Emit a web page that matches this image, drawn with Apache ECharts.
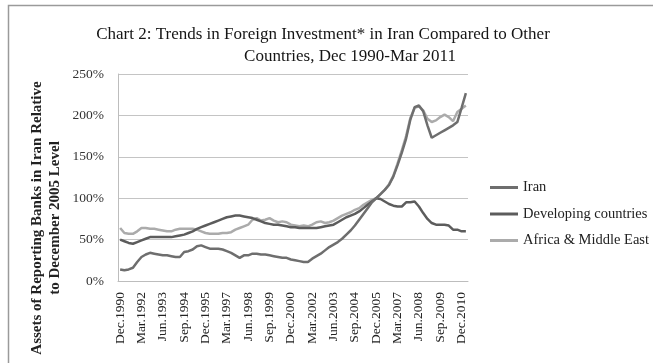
<!DOCTYPE html>
<html>
<head>
<meta charset="utf-8">
<script src="https://cdn.jsdelivr.net/npm/echarts@6/dist/echarts.min.js"></script>
<style>
  html, body { margin: 0; padding: 0; background: #fff; }
  #chart { width: 653px; height: 363px; }
</style>
</head>
<body>
<div id="chart"></div>
<script>
// Quarterly observations, Dec 1990 to Mar 2011
const quarters = [
  'Dec.1990',
  'Mar.1991','Jun.1991','Sep.1991','Dec.1991','Mar.1992','Jun.1992','Sep.1992','Dec.1992',
  'Mar.1993','Jun.1993','Sep.1993','Dec.1993','Mar.1994','Jun.1994','Sep.1994','Dec.1994',
  'Mar.1995','Jun.1995','Sep.1995','Dec.1995','Mar.1996','Jun.1996','Sep.1996','Dec.1996',
  'Mar.1997','Jun.1997','Sep.1997','Dec.1997','Mar.1998','Jun.1998','Sep.1998','Dec.1998',
  'Mar.1999','Jun.1999','Sep.1999','Dec.1999','Mar.2000','Jun.2000','Sep.2000','Dec.2000',
  'Mar.2001','Jun.2001','Sep.2001','Dec.2001','Mar.2002','Jun.2002','Sep.2002','Dec.2002',
  'Mar.2003','Jun.2003','Sep.2003','Dec.2003','Mar.2004','Jun.2004','Sep.2004','Dec.2004',
  'Mar.2005','Jun.2005','Sep.2005','Dec.2005','Mar.2006','Jun.2006','Sep.2006','Dec.2006',
  'Mar.2007','Jun.2007','Sep.2007','Dec.2007','Mar.2008','Jun.2008','Sep.2008','Dec.2008',
  'Mar.2009','Jun.2009','Sep.2009','Dec.2009','Mar.2010','Jun.2010','Sep.2010','Dec.2010',
  'Mar.2011'
];

// Assets relative to the December 2005 level, in percent
const iran = [
  14, 13, 14, 16, 23, 29, 32, 34, 33, 32, 31, 31, 30, 29, 29, 35, 36, 38, 42, 43,
  41, 39, 39, 39, 38, 36, 34, 31, 28, 31, 31, 33, 33, 32, 32, 31, 30, 29, 28, 28,
  26, 25, 24, 23, 23, 27, 30, 33, 37, 41, 44, 47, 51, 56, 61, 67, 74, 81, 88, 95,
  100, 105, 110, 116, 126, 140, 155, 172, 195, 210, 212, 205, 188, 173, 176, 179, 182, 185, 188, 192,
  209, 227
];
const developing = [
  50, 48, 46, 45, 47, 49, 51, 53, 53, 53, 53, 53, 53, 54, 55, 56, 58, 60, 63, 65,
  67, 69, 71, 73, 75, 77, 78, 79, 79, 78, 77, 76, 74, 72, 70, 69, 68, 68, 67, 66,
  65, 65, 64, 64, 64, 64, 64, 65, 66, 67, 68, 71, 74, 77, 79, 81, 84, 88, 92, 96,
  100, 99, 96, 93, 91, 90, 90, 95, 95, 96, 90, 82, 75, 70, 68, 68, 68, 67, 62, 62,
  60, 60
];
const africaMiddleEast = [
  64, 58, 57, 57, 60, 64, 64, 63, 63, 62, 61, 60, 60, 62, 63, 63, 63, 63, 62, 60,
  58, 57, 57, 57, 58, 58, 59, 62, 64, 66, 68, 74, 76, 73, 74, 76, 73, 71, 72, 71,
  68, 67, 66, 67, 66, 68, 71, 72, 70, 71, 73, 76, 79, 81, 83, 86, 88, 92, 95, 98,
  100, 105, 110, 117, 127, 142, 158, 175, 197, 209, 211, 206, 196, 192, 194, 198, 201, 198, 193, 204,
  208, 212
];

const seriesNames = ['Iran', 'Developing countries', 'Africa & Middle East'];
const seriesColors = ['#6e6e6e', '#5c5c5c', '#ababab'];
const seriesZ = [3, 2, 1];
const yTicks = { min: 0, max: 250, interval: 50 };

const serif = '"Liberation Serif", "DejaVu Serif", serif';

const chart = echarts.init(document.getElementById('chart'), null, { renderer: 'canvas' });

const lineSeries = [iran, developing, africaMiddleEast].map((values, k) => ({
  name: seriesNames[k],
  type: 'line',
  data: values,
  showSymbol: false,
  symbol: 'none',
  z: seriesZ[k],
  lineStyle: { color: seriesColors[k], width: 2.5 },
  itemStyle: { color: seriesColors[k] },
  emphasis: { disabled: true }
}));

chart.setOption({
  backgroundColor: '#ffffff',
  animation: false,
  title: [
    {
      text: 'Chart 2: Trends in Foreign Investment* in Iran Compared to Other',
      left: 318, top: 21, textAlign: 'center',
      textStyle: { fontFamily: serif, fontSize: 17, fontWeight: 'normal', color: '#151515' }
    },
    {
      text: 'Countries, Dec 1990-Mar 2011',
      left: 345, top: 43, textAlign: 'center',
      textStyle: { fontFamily: serif, fontSize: 17, fontWeight: 'normal', color: '#151515' }
    }
  ],
  graphic: [
    {
      type: 'rect',
      shape: { x: 8.5, y: 5.5, width: 700, height: 400 },
      style: { fill: 'none', stroke: '#9a9a9a', lineWidth: 1.5 },
      silent: true
    },
    {
      // Vertical axis title, two lines
      type: 'text',
      x: 46, y: 218,
      rotation: Math.PI / 2,
      style: {
        text: 'Assets of Reporting Banks in Iran Relative\nto December 2005 Level',
        font: 'bold 15px ' + serif,
        fill: '#222',
        align: 'center',
        verticalAlign: 'middle',
        lineHeight: 18
      },
      silent: true
    }
  ],
  legend: {
    orient: 'vertical',
    left: 490,
    top: 180,
    padding: 0,
    itemWidth: 28,
    itemHeight: 3,
    itemGap: 11.5,
    icon: 'rect',
    data: seriesNames,
    textStyle: { fontFamily: serif, fontSize: 14.5, color: '#222' }
  },
  grid: { left: 118, right: 185, top: 74, bottom: 82, containLabel: false },
  xAxis: {
    type: 'category',
    data: quarters,
    boundaryGap: true,
    axisLine: { show: true, lineStyle: { color: '#bdbdbd', width: 1 } },
    axisTick: { show: false },
    axisLabel: {
      interval: 4,
      rotate: 90,
      margin: 11,
      fontFamily: serif,
      fontSize: 13.5,
      color: '#222'
    },
    splitLine: { show: false }
  },
  yAxis: {
    type: 'value',
    min: yTicks.min,
    max: yTicks.max,
    interval: yTicks.interval,
    axisLine: { show: true, lineStyle: { color: '#bdbdbd', width: 1 } },
    axisTick: { show: false },
    axisLabel: {
      margin: 14,
      fontFamily: serif,
      fontSize: 13.5,
      color: '#333',
      formatter: v => v + '%'
    },
    splitLine: { show: true, lineStyle: { color: '#c4c4c4', width: 1 } }
  },
  series: lineSeries
});
</script>
</body>
</html>
